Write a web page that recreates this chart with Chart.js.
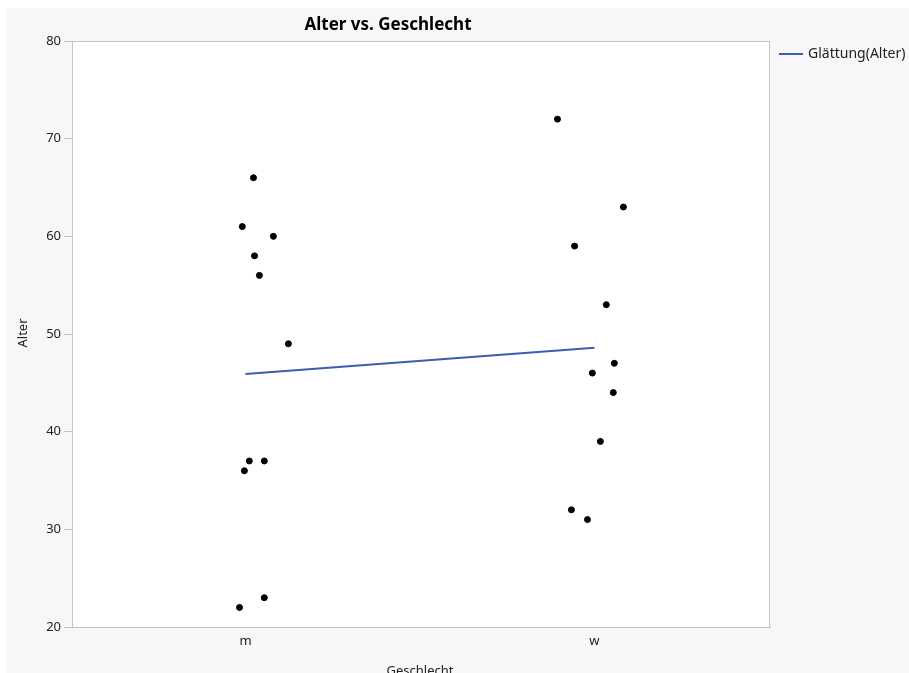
<!DOCTYPE html>
<html>
<head>
<meta charset="utf-8">
<script src="https://cdn.jsdelivr.net/npm/chart.js@4"></script>
<style>
  html, body { margin: 0; padding: 0; background: #ffffff; }
  canvas { display: block; }
</style>
</head>
<body>
<canvas id="c" width="909" height="673"></canvas>
<script>
// Categories on the x axis
const categories = ['m', 'w'];
// Alter per group, with the horizontal jitter offset of each point (in category units)
const alterM  = [66, 61, 60, 58, 56, 49, 37, 37, 36, 23, 22];
const jitterM = [0.023, -0.009, 0.080, 0.026, 0.040, 0.123, 0.011, 0.054, -0.003, 0.054, -0.017];
const alterW  = [72, 63, 59, 53, 47, 46, 44, 39, 32, 31];
const jitterW = [-0.106, 0.083, -0.057, 0.034, 0.057, -0.006, 0.054, 0.017, -0.066, -0.020];
// Smoother (group means) at each category
const smoothValues = [45.9, 48.6];
// Y axis ticks
const yTicks = [20, 30, 40, 50, 60, 70, 80];

const lineColor = '#3d5db3';
const axisColor = '#c4c4c4';
const textColor = '#222222';
const FONT = '"Noto Sans", "Open Sans", sans-serif';

const points = [];
alterM.forEach((v, i) => points.push({ x: 0 + jitterM[i], y: v }));
alterW.forEach((v, i) => points.push({ x: 1 + jitterW[i], y: v }));
const smoothPts = smoothValues.map((v, i) => ({ x: i, y: v }));

const frame = {
  id: 'frame',
  beforeDraw(chart) {
    const ctx = chart.ctx;
    const a = chart.chartArea;
    ctx.save();
    ctx.fillStyle = '#ffffff';
    ctx.fillRect(0, 0, chart.width, chart.height);
    ctx.fillStyle = '#f7f7f7';
    ctx.fillRect(6, 8, chart.width - 6, chart.height - 8);
    ctx.fillStyle = '#ffffff';
    ctx.fillRect(a.left, a.top, a.right - a.left, a.bottom - a.top);
    ctx.restore();
  },
  afterDraw(chart) {
    const ctx = chart.ctx;
    const a = chart.chartArea;
    ctx.save();
    ctx.strokeStyle = axisColor;
    ctx.lineWidth = 1;
    ctx.strokeRect(a.left + 0.5, a.top + 0.5, a.right - a.left - 1, a.bottom - a.top);
    // Title
    ctx.fillStyle = '#000000';
    ctx.font = 'bold 17px ' + FONT;
    ctx.textAlign = 'center';
    ctx.textBaseline = 'middle';
    ctx.fillText('Alter vs. Geschlecht', 388, 25);
    // Axis titles
    ctx.font = '13px ' + FONT;
    ctx.fillStyle = textColor;
    ctx.fillText('Geschlecht', 420, 671);
    ctx.save();
    ctx.translate(23, 333);
    ctx.rotate(-Math.PI / 2);
    ctx.fillText('Alter', 0, 0);
    ctx.restore();
    // Legend
    ctx.strokeStyle = lineColor;
    ctx.lineWidth = 2;
    ctx.beginPath();
    ctx.moveTo(779, 54);
    ctx.lineTo(803, 54);
    ctx.stroke();
    ctx.textAlign = 'left';
    ctx.font = '14px ' + FONT;
    ctx.fillText(chart.data.datasets[1].label, 808, 54);
    ctx.restore();
  }
};

new Chart(document.getElementById('c'), {
  type: 'scatter',
  data: {
    datasets: [
      {
        label: 'Alter',
        data: points,
        backgroundColor: '#000000',
        borderColor: '#000000',
        pointRadius: 3,
        pointHoverRadius: 3,
        order: 1
      },
      {
        label: 'Glättung(Alter)',
        type: 'line',
        data: smoothPts,
        borderColor: lineColor,
        borderWidth: 2,
        pointRadius: 0,
        fill: false,
        order: 2
      }
    ]
  },
  options: {
    responsive: false,
    animation: false,
    events: [],
    layout: { padding: { top: 41, right: 139, left: 0, bottom: 0 } },
    plugins: {
      legend: { display: false },
      title: { display: false },
      tooltip: { enabled: false }
    },
    scales: {
      x: {
        type: 'linear',
        min: -0.497,
        max: 1.503,
        afterFit(s) { s.height = 46; },
        afterBuildTicks(s) { s.ticks = categories.map((c, i) => ({ value: i })); },
        grid: { display: false, drawTicks: false },
        border: { display: true, color: axisColor },
        ticks: {
          padding: 6,
          color: textColor,
          font: { family: FONT, size: 13 },
          callback: (v) => categories[v] ?? ''
        }
      },
      y: {
        min: 20,
        max: 80,
        afterFit(s) { s.width = 72; },
        afterBuildTicks(s) { s.ticks = yTicks.map(v => ({ value: v })); },
        grid: { drawOnChartArea: false, drawTicks: true, tickLength: 8, color: axisColor },
        border: { display: true, color: axisColor },
        ticks: {
          padding: 3,
          color: textColor,
          font: { family: FONT, size: 13 }
        }
      }
    }
  },
  plugins: [frame]
});
</script>
</body>
</html>
